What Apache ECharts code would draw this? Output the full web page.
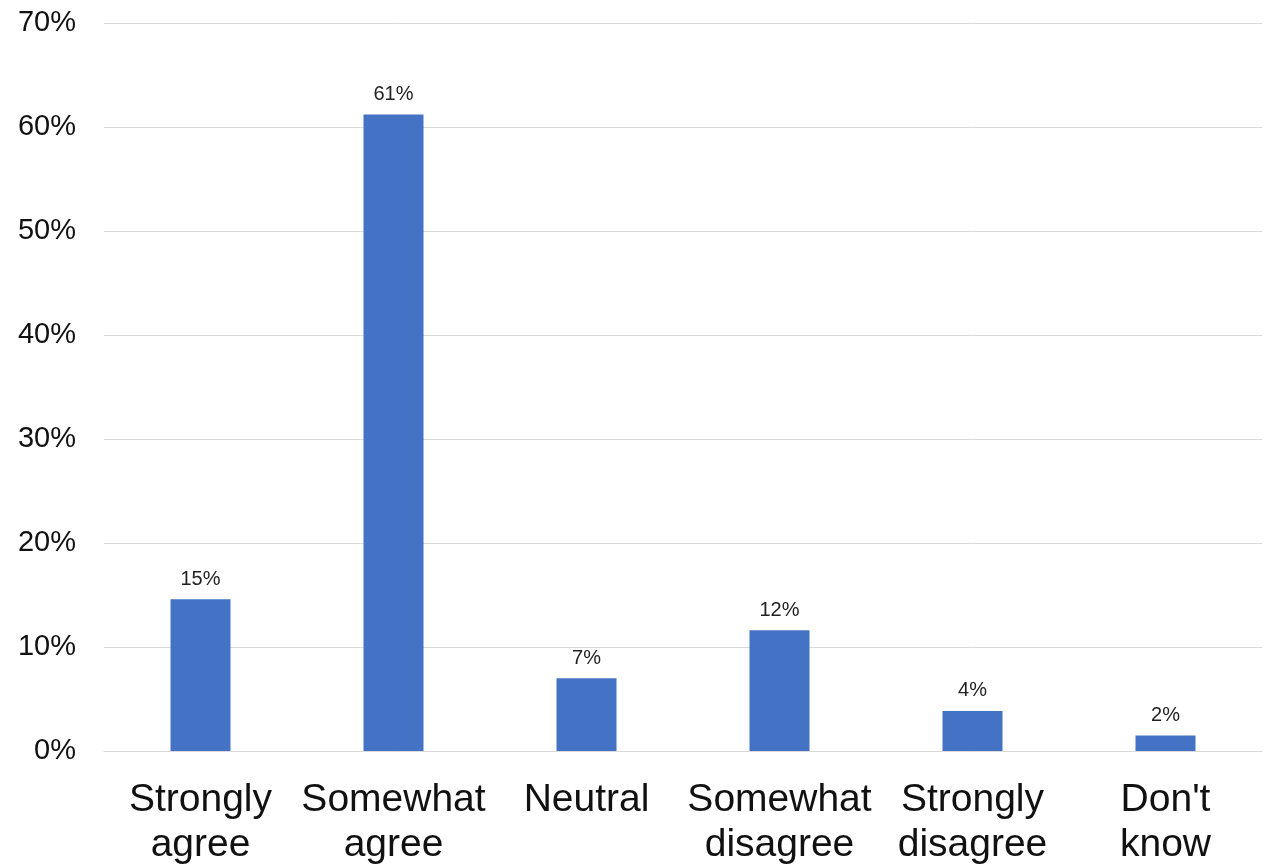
<!DOCTYPE html>
<html>
<head>
<meta charset="utf-8">
<script src="https://cdn.jsdelivr.net/npm/echarts@6/dist/echarts.min.js"></script>
<style>
html,body{margin:0;padding:0;background:#fff;}
#chart{width:1266px;height:865px;}
</style>
</head>
<body>
<div id="chart"></div>
<script>
const categories = ["Strongly\nagree", "Somewhat\nagree", "Neutral", "Somewhat\ndisagree", "Strongly\ndisagree", "Don't\nknow"];
const values = [14.6, 61.2, 7.0, 11.6, 3.85, 1.5];
const valueLabels = ["15%", "61%", "7%", "12%", "4%", "2%"];
const yTicks = [0, 10, 20, 30, 40, 50, 60, 70];

const chart = echarts.init(document.getElementById('chart'), null, {renderer: 'canvas'});
chart.setOption({
  animation: false,
  backgroundColor: '#ffffff',
  textStyle: {fontFamily: '"Liberation Sans", Arial, sans-serif'},
  grid: {left: 104, right: 4, top: 23, bottom: 114, containLabel: false, outerBoundsMode: 'none'},
  xAxis: {
    type: 'category',
    data: categories,
    axisLine: {show: true, lineStyle: {color: '#d9d9d9', width: 1}},
    axisTick: {show: false},
    axisLabel: {
      color: '#111111',
      fontSize: 39,
      lineHeight: 45,
      margin: 27,
      interval: 0,
      fontFamily: '"Liberation Sans", Arial, sans-serif'
    }
  },
  yAxis: {
    type: 'value',
    min: 0,
    max: 70,
    interval: 10,
    axisLine: {show: false},
    axisTick: {show: false},
    splitLine: {lineStyle: {color: '#d9d9d9', width: 1}},
    axisLabel: {
      color: '#111111',
      fontSize: 29,
      margin: 28,
      padding: [6, 0, 0, 0],
      formatter: function (v) { return yTicks.indexOf(v) >= 0 ? v + '%' : ''; },
      fontFamily: '"Liberation Sans", Arial, sans-serif'
    }
  },
  series: [{
    type: 'bar',
    data: values,
    barWidth: 60,
    itemStyle: {color: '#4472C4'},
    label: {
      show: true,
      position: 'top',
      distance: 10,
      color: '#222222',
      fontSize: 20,
      formatter: function (p) { return valueLabels[p.dataIndex]; },
      fontFamily: '"Liberation Sans", Arial, sans-serif'
    }
  }]
});
</script>
</body>
</html>
